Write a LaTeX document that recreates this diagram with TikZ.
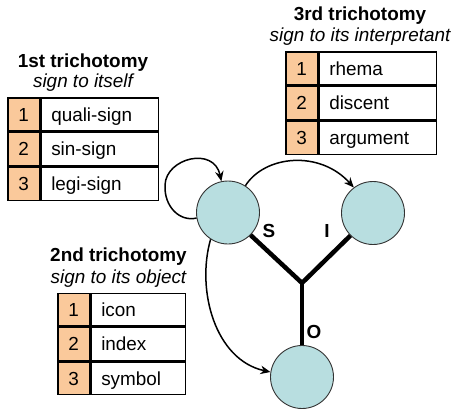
\documentclass[tikz,border=0pt]{standalone}
\usepackage{fontspec}
\setmainfont{Liberation Sans}
\usetikzlibrary{arrows.meta}
\definecolor{cellorange}{HTML}{FAC99B}
\definecolor{nodecyan}{HTML}{B8DEE0}
\begin{document}
\begin{tikzpicture}[x=1pt,y=-1pt,
  every node/.style={font=\fontsize{18.9}{22}\selectfont},
  heading/.style={anchor=base, font=\fontsize{18.9}{22}\selectfont\bfseries},
  subheading/.style={anchor=base, font=\fontsize{18.9}{22}\selectfont\itshape},
  numcell/.style={draw, fill=cellorange, line width=1.5pt, minimum width=32pt,
    minimum height=33.3pt, inner sep=0pt, anchor=north west,
    text height=13.5pt, text depth=0pt},
  txtcell/.style={draw, fill=white, line width=1.5pt, minimum height=33.3pt,
    inner ysep=0pt, inner xsep=10pt, text width=#1, align=left,
    anchor=north west, text height=13.5pt, text depth=0pt},
  vertex/.style={circle, draw=black!80, fill=nodecyan, line width=0.9pt,
    minimum size=63pt, inner sep=0pt},
  conn/.style={line width=1.5pt, -{Stealth[length=10pt,width=8.5pt]}},
  spoke/.style={line width=4.5pt},
  tag/.style={font=\fontsize{18.9}{22}\selectfont\bfseries}]

\useasboundingbox (0,0) rectangle (455,410);

% first trichotomy: the sign in itself
\node[heading] (h1) at (83,67) {1st trichotomy};
\node[subheading] (s1) at (83,87.5) {sign to itself};
\node[numcell] (a1) at (7,97) {1};
\node[txtcell=97pt] (b1) at (a1.north east) {quali-sign};
\node[numcell] (a2) at (a1.south west) {2};
\node[txtcell=97pt] (b2) at (a2.north east) {sin-sign};
\node[numcell] (a3) at (a2.south west) {3};
\node[txtcell=97pt] (b3) at (a3.north east) {legi-sign};

% third trichotomy: the sign and its interpretant
\node[heading] (h3) at (360,20.5) {3rd trichotomy};
\node[subheading] (s3) at (360,41.5) {sign to its interpretant};
\node[numcell] (c1) at (285,51) {1};
\node[txtcell=97pt] (d1) at (c1.north east) {rhema};
\node[numcell] (c2) at (c1.south west) {2};
\node[txtcell=97pt] (d2) at (c2.north east) {discent};
\node[numcell] (c3) at (c2.south west) {3};
\node[txtcell=97pt] (d3) at (c3.north east) {argument};

% second trichotomy: the sign and its object
\node[heading] (h2) at (118.5,261) {2nd trichotomy};
\node[subheading] (s2) at (118.5,283) {sign to its object};
\node[numcell, minimum height=32.8pt] (e1) at (57,292.5) {1};
\node[txtcell=74pt, minimum height=32.8pt] (f1) at (e1.north east) {icon};
\node[numcell, minimum height=32.8pt] (e2) at (e1.south west) {2};
\node[txtcell=74pt, minimum height=32.8pt] (f2) at (e2.north east) {index};
\node[numcell, minimum height=32.8pt] (e3) at (e2.south west) {3};
\node[txtcell=74pt, minimum height=32.8pt] (f3) at (e3.north east) {symbol};

% triadic sign relation
\node[vertex] (S) at (228,212.5) {};
\node[vertex] (I) at (373,213) {};
\node[vertex] (O) at (302,377) {};
\coordinate (J) at (302,283);

\draw[spoke] (S.-45) -- (J) -- (I.-135);
\draw[spoke] (J) -- (O.north);

\node[tag] (ls) at (269,231) {S};
\node[tag] (li) at (327,231) {I};
\node[tag] (lo) at (314,332) {O};

% connectors between the correlates
\draw[conn] (S.190) .. controls (180,222) and (164,207) .. (165,185)
  .. controls (166,158) and (214,146) .. (S.102);
\draw[conn] (S.57) .. controls (265,155) and (320,150) .. (I.127);
\draw[conn] (S.237) .. controls (196,290) and (215,360) .. (O.171);
\end{tikzpicture}
\end{document}
